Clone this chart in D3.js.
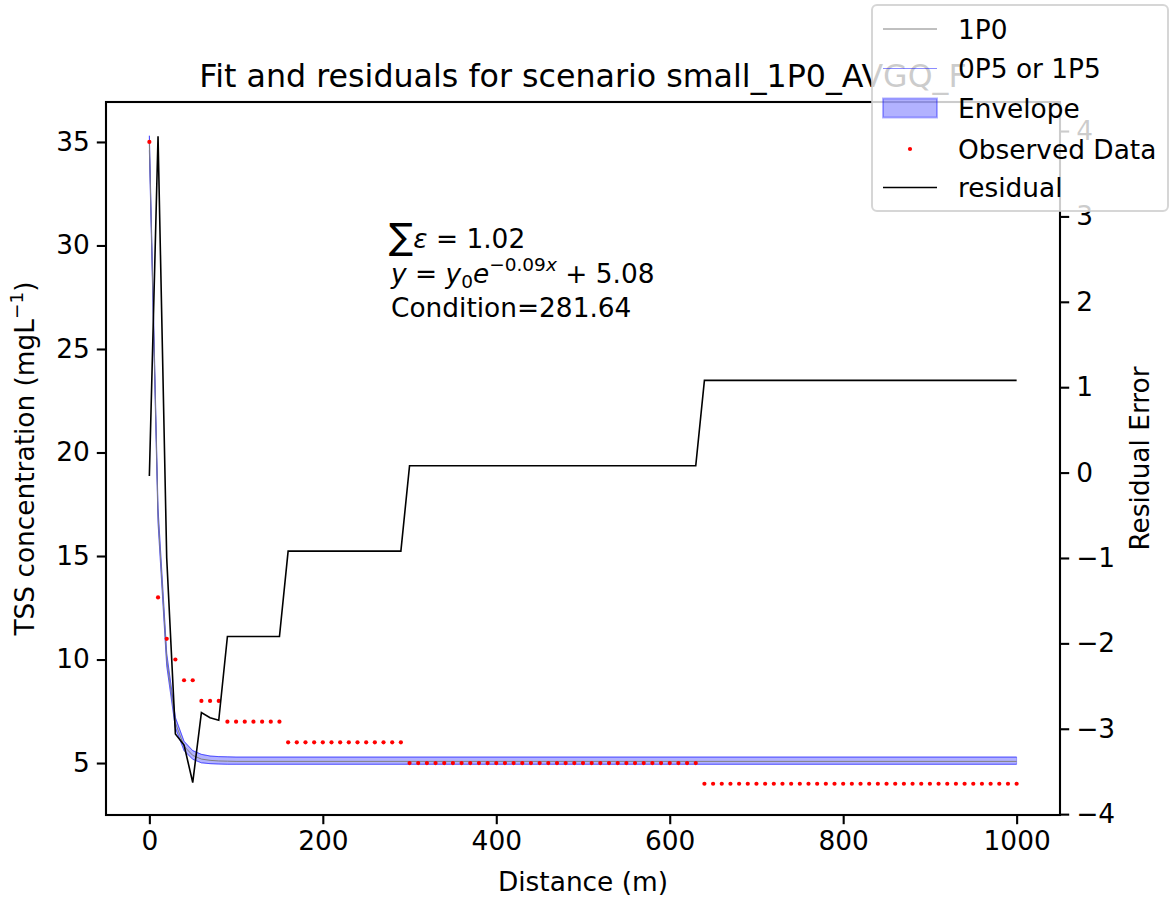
<!DOCTYPE html>
<html>
<head>
<meta charset="utf-8">
<script src="https://cdn.jsdelivr.net/npm/d3@7"></script>
<style>
  body { margin: 0; background: #fff; }
  svg { font-family: "DejaVu Sans", sans-serif; }
  .axis path, .axis line { stroke: #000; stroke-width: 2.1; }
  .axis text { font-size: 26.4px; fill: #000; font-family: "DejaVu Sans", sans-serif; }
</style>
</head>
<body>
<svg id="chart"></svg>
<script>
// observed TSS samples along the reach
const distance = [0, 10, 20, 30, 40, 50, 60, 70, 80, 90, 100, 110, 120, 130, 140, 150, 160, 170, 180, 190,
  200, 210, 220, 230, 240, 250, 260, 270, 280, 290, 300, 310, 320, 330, 340, 350, 360, 370, 380, 390,
  400, 410, 420, 430, 440, 450, 460, 470, 480, 490, 500, 510, 520, 530, 540, 550, 560, 570, 580, 590,
  600, 610, 620, 630, 640, 650, 660, 670, 680, 690, 700, 710, 720, 730, 740, 750, 760, 770, 780, 790,
  800, 810, 820, 830, 840, 850, 860, 870, 880, 890, 900, 910, 920, 930, 940, 950, 960, 970, 980, 990, 1000];
const observed = [35, 13, 11, 10, 9, 9, 8, 8, 8, 7, 7, 7, 7, 7, 7, 7, 6, 6, 6, 6,
  6, 6, 6, 6, 6, 6, 6, 6, 6, 6, 5, 5, 5, 5, 5, 5, 5, 5, 5, 5,
  5, 5, 5, 5, 5, 5, 5, 5, 5, 5, 5, 5, 5, 5, 5, 5, 5, 5, 5, 5,
  5, 5, 5, 5, 4, 4, 4, 4, 4, 4, 4, 4, 4, 4, 4, 4, 4, 4, 4, 4,
  4, 4, 4, 4, 4, 4, 4, 4, 4, 4, 4, 4, 4, 4, 4, 4, 4, 4, 4, 4, 4];
const residual = [-0.04, 3.94, -1.00, -3.06, -3.19, -3.63, -2.81, -2.87, -2.90, -1.92, -1.92, -1.92, -1.92, -1.92, -1.92, -1.92, -0.92, -0.92, -0.92, -0.92,
  -0.92, -0.92, -0.92, -0.92, -0.92, -0.92, -0.92, -0.92, -0.92, -0.92, 0.08, 0.08, 0.08, 0.08, 0.08, 0.08, 0.08, 0.08, 0.08, 0.08,
  0.08, 0.08, 0.08, 0.08, 0.08, 0.08, 0.08, 0.08, 0.08, 0.08, 0.08, 0.08, 0.08, 0.08, 0.08, 0.08, 0.08, 0.08, 0.08, 0.08,
  0.08, 0.08, 0.08, 0.08, 1.08, 1.08, 1.08, 1.08, 1.08, 1.08, 1.08, 1.08, 1.08, 1.08, 1.08, 1.08, 1.08, 1.08, 1.08, 1.08,
  1.08, 1.08, 1.08, 1.08, 1.08, 1.08, 1.08, 1.08, 1.08, 1.08, 1.08, 1.08, 1.08, 1.08, 1.08, 1.08, 1.08, 1.08, 1.08, 1.08, 1.08];

// fitted curves (1P0 centre, 0P5 / 1P5 bounds)
const fitX = [0, 10, 20, 30, 40, 50, 60, 70, 80, 90, 100, 1000];
const fit1P0 = [34.96, 16.94, 10.0, 6.94, 5.81, 5.37, 5.19, 5.13, 5.10, 5.09, 5.08, 5.08];
const fitUpper = [35.3, 17.3, 10.3, 7.2, 6.05, 5.6, 5.42, 5.34, 5.31, 5.30, 5.29, 5.29];
const fitLower = [34.6, 16.6, 9.7, 6.7, 5.6, 5.18, 5.01, 4.97, 4.95, 4.94, 4.94, 4.94];

const xTicks = [0, 200, 400, 600, 800, 1000];
const yTicks = [5, 10, 15, 20, 25, 30, 35];
const rTicks = [-4, -3, -2, -1, 0, 1, 2, 3, 4];

const legendItems = ['1P0', '0P5 or 1P5', 'Envelope', 'Observed Data', 'residual'];

class FitResidualChart {
  constructor(_config) {
    this.config = {
      parentElement: _config.parentElement,
      containerWidth: 1170,
      containerHeight: 901,
      margin: {top: 102, right: 110, bottom: 86, left: 106}
    };
    this.initVis();
  }

  initVis() {
    let vis = this;
    const m = vis.config.margin;
    vis.width = vis.config.containerWidth - m.left - m.right;
    vis.height = vis.config.containerHeight - m.top - m.bottom;

    vis.xScale = d3.scaleLinear().domain([-50, 1050]).range([0, vis.width]);
    vis.yScale = d3.scaleLinear().domain([2.49, 36.93]).range([vis.height, 0]);
    vis.rScale = d3.scaleLinear().domain([-4.01, 4.34]).range([vis.height, 0]);

    vis.svg = d3.select(vis.config.parentElement)
        .attr('width', vis.config.containerWidth)
        .attr('height', vis.config.containerHeight);

    vis.chart = vis.svg.append('g')
        .attr('transform', `translate(${m.left},${m.top})`);

    vis.renderVis();
  }

  renderVis() {
    let vis = this;
    const fitData = fitX.map((x, i) => ({x: x, mid: fit1P0[i], hi: fitUpper[i], lo: fitLower[i]}));
    const obsData = distance.map((x, i) => ({x: x, y: observed[i], r: residual[i]}));

    // envelope
    vis.chart.append('path')
        .datum(fitData)
        .attr('fill', 'blue')
        .attr('fill-opacity', 0.3)
        .attr('stroke', 'blue')
        .attr('stroke-opacity', 0.3)
        .attr('stroke-width', 1)
        .attr('d', d3.area().x(d => vis.xScale(d.x)).y0(d => vis.yScale(d.lo)).y1(d => vis.yScale(d.hi)));

    // 0P5 and 1P5 lines
    ['hi', 'lo'].forEach(k => {
      vis.chart.append('path')
          .datum(fitData)
          .attr('fill', 'none')
          .attr('stroke', 'blue')
          .attr('stroke-opacity', 0.45)
          .attr('stroke-width', 1)
          .attr('d', d3.line().x(d => vis.xScale(d.x)).y(d => vis.yScale(d[k])));
    });

    // 1P0 line
    vis.chart.append('path')
        .datum(fitData)
        .attr('fill', 'none')
        .attr('stroke', 'gray')
        .attr('stroke-width', 1)
        .attr('d', d3.line().x(d => vis.xScale(d.x)).y(d => vis.yScale(d.mid)));

    // observed data
    vis.chart.selectAll('.obs')
        .data(obsData)
      .join('circle')
        .attr('class', 'obs')
        .attr('cx', d => vis.xScale(d.x))
        .attr('cy', d => vis.yScale(d.y))
        .attr('r', 2.1)
        .attr('fill', 'red');

    // residual (right axis)
    vis.chart.append('path')
        .datum(obsData)
        .attr('fill', 'none')
        .attr('stroke', 'black')
        .attr('stroke-width', 1.6)
        .attr('d', d3.line().x(d => vis.xScale(d.x)).y(d => vis.rScale(d.r)));

    // axes
    const xAxis = d3.axisBottom(vis.xScale).tickValues(xTicks).tickSizeInner(9.2).tickSizeOuter(0).tickPadding(7)
        .tickFormat(d => d);
    const yAxis = d3.axisLeft(vis.yScale).tickValues(yTicks).tickSizeInner(9.2).tickSizeOuter(0).tickPadding(7);
    const rAxis = d3.axisRight(vis.rScale).tickValues(rTicks).tickSizeInner(9.2).tickSizeOuter(0).tickPadding(7)
        .tickFormat(d => d < 0 ? '\u2212' + Math.abs(d) : d);

    vis.chart.append('g').attr('class', 'axis').attr('transform', `translate(0,${vis.height})`).call(xAxis);
    vis.chart.append('g').attr('class', 'axis').call(yAxis);
    vis.chart.append('g').attr('class', 'axis').attr('transform', `translate(${vis.width},0)`).call(rAxis);
    vis.chart.selectAll('.axis .domain').remove();

    // frame
    vis.chart.append('rect')
        .attr('width', vis.width)
        .attr('height', vis.height)
        .attr('fill', 'none')
        .attr('stroke', '#000')
        .attr('stroke-width', 2.1);

    // labels
    vis.svg.append('text')
        .attr('x', vis.config.margin.left + vis.width / 2)
        .attr('y', 87)
        .attr('text-anchor', 'middle')
        .style('font-size', '31.7px')
        .text('Fit and residuals for scenario small_1P0_AVGQ_F');

    vis.svg.append('text')
        .attr('x', vis.config.margin.left + vis.width / 2)
        .attr('y', 891)
        .attr('text-anchor', 'middle')
        .style('font-size', '26.4px')
        .text('Distance (m)');

    const yl = vis.svg.append('text')
        .attr('transform', `translate(34,${vis.config.margin.top + vis.height / 2}) rotate(-90)`)
        .attr('text-anchor', 'middle')
        .style('font-size', '26.4px');
    yl.append('tspan').text('TSS concentration (mgL');
    yl.append('tspan').attr('dy', -11).style('font-size', '18.5px').text('\u22121');
    yl.append('tspan').attr('dy', 11).text(')');

    vis.svg.append('text')
        .attr('transform', `translate(1149,${vis.config.margin.top + vis.height / 2}) rotate(-90)`)
        .attr('text-anchor', 'middle')
        .style('font-size', '26.4px')
        .text('Residual Error');

    // annotation
    const ann = vis.svg.append('g').style('font-size', '26.4px');
    const l1 = ann.append('text').attr('x', 389).attr('y', 248);
    l1.append('tspan').style('font-size', '36px').attr('dy', 1).text('\u2211');
    l1.append('tspan').attr('dy', -1).style('font-style', 'italic').text('\u03b5');
    l1.append('tspan').text(' = 1.02');

    const l2 = ann.append('text').attr('x', 391).attr('y', 283);
    l2.append('tspan').style('font-style', 'italic').text('y');
    l2.append('tspan').text(' = ');
    l2.append('tspan').style('font-style', 'italic').text('y');
    l2.append('tspan').attr('dy', 5).style('font-size', '18.5px').text('0');
    l2.append('tspan').attr('dy', -5).style('font-style', 'italic').text('e');
    l2.append('tspan').attr('dy', -12).style('font-size', '18.5px').text('\u22120.09');
    l2.append('tspan').style('font-size', '18.5px').style('font-style', 'italic').text('x');
    l2.append('tspan').attr('dy', 12).text(' + 5.08');

    ann.append('text').attr('x', 391).attr('y', 317).text('Condition=281.64');

    vis.renderLegend();
  }

  renderLegend() {
    let vis = this;
    const lg = vis.svg.append('g').attr('transform', 'translate(872,5)');
    lg.append('rect')
        .attr('width', 296).attr('height', 206).attr('rx', 5)
        .attr('fill', 'white').attr('fill-opacity', 0.8)
        .attr('stroke', '#cccccc').attr('stroke-opacity', 0.8).attr('stroke-width', 2);

    const rowY = [24, 63.5, 103, 144, 182.5];
    legendItems.forEach((name, i) => {
      const g = lg.append('g').attr('transform', `translate(0,${rowY[i]})`);
      if (i === 0) {
        g.append('line').attr('x1', 11).attr('x2', 65).attr('stroke', 'gray').attr('stroke-width', 1);
      } else if (i === 1) {
        g.append('line').attr('x1', 11).attr('x2', 65).attr('stroke', 'blue').attr('stroke-opacity', 0.45).attr('stroke-width', 1);
      } else if (i === 2) {
        g.append('rect').attr('x', 11).attr('y', -9.5).attr('width', 54).attr('height', 19)
            .attr('fill', 'blue').attr('fill-opacity', 0.3)
            .attr('stroke', 'blue').attr('stroke-opacity', 0.3).attr('stroke-width', 2);
      } else if (i === 3) {
        g.append('circle').attr('cx', 38).attr('r', 2.1).attr('fill', 'red');
      } else {
        g.append('line').attr('x1', 11).attr('x2', 65).attr('stroke', 'black').attr('stroke-width', 1.6);
      }
      g.append('text').attr('x', 86).attr('y', 9.5).style('font-size', '26.4px').text(name);
    });
  }
}

new FitResidualChart({parentElement: '#chart'});
</script>
</body>
</html>
